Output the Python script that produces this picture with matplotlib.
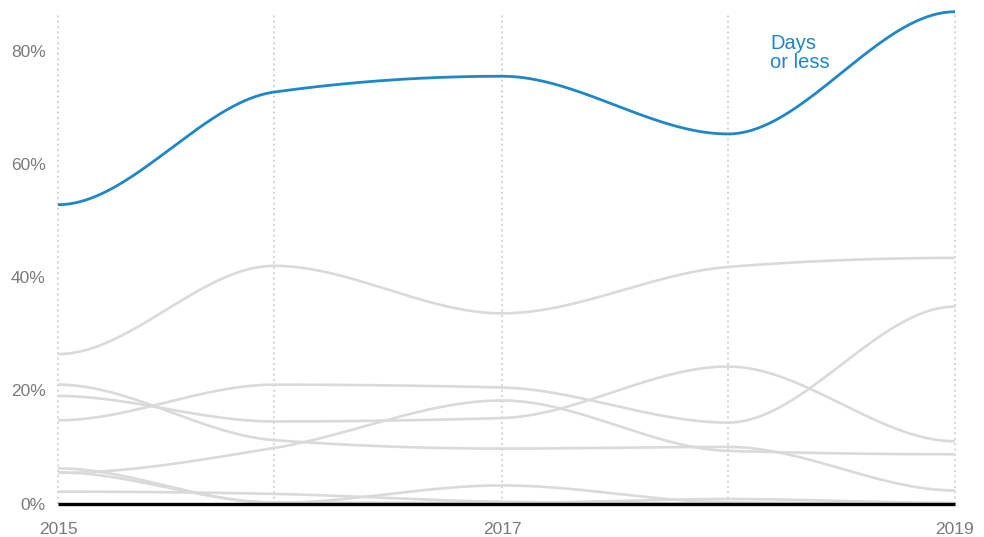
import numpy as np
import matplotlib
matplotlib.use('Agg')
from matplotlib import pyplot as plt

plt.rcParams['font.family'] = ['Liberation Sans', 'DejaVu Sans']

# survey dates as decimal years (points are not exactly one year apart)
dates = [2015.0, 2015.963, 2016.98, 2017.988, 2019.0]
xtick_pos = [2015.0, 2016.98, 2019.0]
xtick_labels = ['2015', '2017', '2019']
yticks = [0, 20, 40, 60, 80]

days_or_less = [52.8, 72.7, 75.5, 65.3, 86.9]

others = [
    [26.4, 42.0, 33.6, 41.8, 43.4],
    [21.0, 11.2, 9.7, 10.0, 2.3],
    [19.0, 14.5, 15.1, 24.2, 11.0],
    [14.7, 21.0, 20.5, 14.3, 34.8],
    [5.4, 9.8, 18.2, 9.3, 8.7],
    [6.2, 0.1, 3.2, 0.2, 0.0],
    [5.5, 0.2, 0.1, 0.8, 0.1],
    [2.1, 1.7, 0.3, 0.0, 0.0],
]

blue = '#1d87c9'
gray_line = '#dadada'
grid_col = '#c8c8c8'
label_col = '#7a7a7a'


def smooth(xs, ys, n=80):
    # monotone hermite (d3 style slopes inside), flat at both ends
    xs = np.asarray(xs, float)
    ys = np.asarray(ys, float)
    h = np.diff(xs)
    s = np.diff(ys) / h
    m = np.zeros(len(xs))
    for i in range(1, len(xs) - 1):
        s0, s1 = s[i - 1], s[i]
        p = (s0 * h[i] + s1 * h[i - 1]) / (h[i - 1] + h[i])
        m[i] = (np.sign(s0) + np.sign(s1)) * min(abs(s0), abs(s1), 0.5 * abs(p))
    xo, yo = [], []
    for i in range(len(xs) - 1):
        t = np.linspace(0, 1, n)
        if i > 0:
            t = t[1:]
        h00 = 2 * t ** 3 - 3 * t ** 2 + 1
        h10 = t ** 3 - 2 * t ** 2 + t
        h01 = -2 * t ** 3 + 3 * t ** 2
        h11 = t ** 3 - t ** 2
        xo.append(xs[i] + t * h[i])
        yo.append(h00 * ys[i] + h10 * h[i] * m[i] + h01 * ys[i + 1] + h11 * h[i] * m[i + 1])
    return np.concatenate(xo), np.concatenate(yo)


fig = plt.figure(figsize=(9.84, 5.37), dpi=100)
ax = fig.add_axes([58 / 984, 33.5 / 537, 897 / 984, 498 / 537])

ax.vlines(dates, 0, 86.4, colors=grid_col, linestyles=(0, (1.3, 2.2)), linewidth=1.1, zorder=1, clip_on=False)

for s in others:
    x, y = smooth(dates, s)
    ax.plot(x, y, color=gray_line, lw=1.9, solid_capstyle='butt', zorder=2)

x, y = smooth(dates, days_or_less)
ax.plot(x, y, color=blue, lw=2.0, solid_capstyle='butt', zorder=3, clip_on=False)

ax.plot([dates[0], dates[-1]], [0, 0], color='black', lw=2.4, solid_capstyle='butt', zorder=4, clip_on=False)

ax.text(2018.175, 82.9, 'Days\nor less', color=blue, fontsize=14.5, va='top', ha='left', linespacing=0.95)

ax.set_xlim(dates[0], dates[-1])
ax.set_ylim(0, 88)
ax.set_xticks(xtick_pos)
ax.set_xticklabels(xtick_labels)
ax.set_yticks(yticks)
ax.set_yticklabels([f'{v}%' for v in yticks])
ax.tick_params(axis='both', length=0, labelsize=12.5, labelcolor=label_col)
ax.tick_params(axis='x', pad=13)
ax.tick_params(axis='y', pad=9)
for sp in ax.spines.values():
    sp.set_visible(False)

plt.savefig('out.png', dpi=100)
